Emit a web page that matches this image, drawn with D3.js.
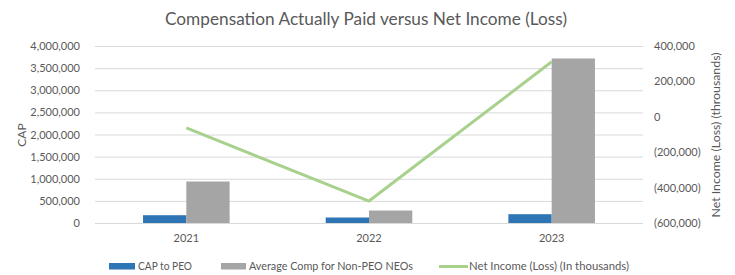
<!DOCTYPE html>
<html>
<head>
<meta charset="utf-8">
<script src="https://cdn.jsdelivr.net/npm/d3@7"></script>
<style>
    body { margin: 0; background: #fff; }
    text { font-family: Lato, "Open Sans", sans-serif; fill: #595959; }
</style>
</head>
<body>
<svg id="chart" width="735" height="275"></svg>
<script>
let years = ["2021", "2022", "2023"];
let capToPeo = [176000, 124000, 199000];
let avgNonPeo = [938000, 282000, 3718000];
let netIncome = [-63000, -476000, 311000];
let leftTicks = [0, 500000, 1000000, 1500000, 2000000, 2500000, 3000000, 3500000, 4000000];
let rightTicks = [-600000, -400000, -200000, 0, 200000, 400000];

let svg = d3.select("#chart");
let plot = { left: 95, right: 643, top: 46, bottom: 223 };

let x = d3.scaleBand().domain(years).range([plot.left, plot.right]);
let yLeft = d3.scaleLinear().domain([0, 4000000]).range([plot.bottom, plot.top]);
let yRight = d3.scaleLinear().domain([-600000, 400000]).range([plot.bottom, plot.top]);

let fmt = d3.format(",");
let fmtParen = function (v) {
    return v < 0 ? "(" + fmt(-v) + ")" : fmt(v);
};

// title
svg.append("text")
    .attr("x", 366).attr("y", 25)
    .attr("text-anchor", "middle")
    .style("font-size", "17px")
    .attr("textLength", 402).attr("lengthAdjust", "spacingAndGlyphs")
    .text("Compensation Actually Paid versus Net Income (Loss)");

// gridlines
svg.append("g").selectAll("line").data(leftTicks).enter().append("line")
    .attr("x1", plot.left).attr("x2", plot.right)
    .attr("y1", d => yLeft(d) + 0.5).attr("y2", d => yLeft(d) + 0.5)
    .attr("stroke", "#d9d9d9").attr("stroke-width", 1);

// left axis
let leftAxis = svg.append("g")
    .attr("transform", "translate(" + (plot.left - 15) + ",0)")
    .call(d3.axisLeft(yLeft).tickValues(leftTicks).tickFormat(fmt).tickSize(0).tickPadding(0));
leftAxis.select(".domain").remove();
leftAxis.selectAll("text").style("font-size", "11px").style("font-family", null);

// right axis
let rightAxis = svg.append("g")
    .attr("transform", "translate(" + (plot.right + 11) + ",0)")
    .call(d3.axisRight(yRight).tickValues(rightTicks).tickFormat(fmtParen).tickSize(0).tickPadding(0));
rightAxis.select(".domain").remove();
rightAxis.selectAll("text").style("font-size", "11px").style("font-family", null);

// axis titles
svg.append("text")
    .attr("transform", "translate(26,135) rotate(-90)")
    .attr("text-anchor", "middle")
    .style("font-size", "12px")
    .text("CAP");
svg.append("text")
    .attr("transform", "translate(720,135) rotate(-90)")
    .attr("text-anchor", "middle")
    .style("font-size", "12px")
    .attr("textLength", 165).attr("lengthAdjust", "spacingAndGlyphs")
    .text("Net Income (Loss) (throusands)");

// category labels
let bottomAxis = svg.append("g")
    .attr("transform", "translate(0," + plot.bottom + ")")
    .call(d3.axisBottom(x).tickSize(0).tickPadding(11));
bottomAxis.select(".domain").remove();
bottomAxis.selectAll("text").style("font-size", "11px").style("font-family", null);

// bars
let barW = x.bandwidth() * 0.237;
let bars = svg.append("g");
bars.selectAll(".peo").data(years).enter().append("rect")
    .attr("x", d => x(d) + x.bandwidth() / 2 - barW)
    .attr("y", (d, i) => yLeft(capToPeo[i]))
    .attr("width", barW)
    .attr("height", (d, i) => yLeft(0) - yLeft(capToPeo[i]))
    .attr("fill", "#2e75b6");
bars.selectAll(".neo").data(years).enter().append("rect")
    .attr("x", d => x(d) + x.bandwidth() / 2)
    .attr("y", (d, i) => yLeft(avgNonPeo[i]))
    .attr("width", barW)
    .attr("height", (d, i) => yLeft(0) - yLeft(avgNonPeo[i]))
    .attr("fill", "#a5a5a5");

// net income line
let line = d3.line()
    .x((d, i) => x(years[i]) + x.bandwidth() / 2)
    .y(d => yRight(d));
svg.append("path")
    .datum(netIncome)
    .attr("d", line)
    .attr("fill", "none")
    .attr("stroke", "#a9d18e")
    .attr("stroke-width", 3)
    .attr("stroke-linejoin", "round");

// legend
let legend = svg.append("g").attr("transform", "translate(0,266)");
let items = [
    { name: "CAP to PEO", color: "#2e75b6", type: "rect", x: 109, w: 26, tx: 138, tw: 54 },
    { name: "Average Comp for Non-PEO NEOs", color: "#a5a5a5", type: "rect", x: 221, w: 25, tx: 249, tw: 164 },
    { name: "Net Income (Loss) (In thousands)", color: "#a9d18e", type: "line", x: 439, w: 29, tx: 469, tw: 160 }
];
items.forEach(function (it) {
    if (it.type === "rect") {
        legend.append("rect").attr("x", it.x).attr("y", -3).attr("width", it.w).attr("height", 6.5).attr("fill", it.color);
    } else {
        legend.append("line").attr("x1", it.x).attr("x2", it.x + it.w).attr("y1", 0.5).attr("y2", 0.5)
            .attr("stroke", it.color).attr("stroke-width", 3);
    }
    legend.append("text")
        .attr("x", it.tx).attr("y", 0).attr("dy", "0.35em")
        .style("font-size", "11.5px")
        .attr("textLength", it.tw).attr("lengthAdjust", "spacingAndGlyphs")
        .text(it.name);
});
</script>
</body>
</html>
